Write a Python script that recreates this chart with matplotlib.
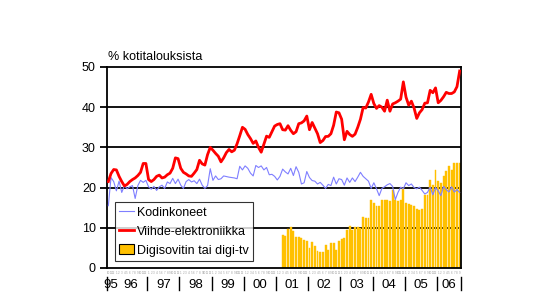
import matplotlib
matplotlib.use("Agg")
import matplotlib.pyplot as plt
from matplotlib.patches import Patch
from matplotlib.lines import Line2D

plt.rcParams['font.family'] = ['Liberation Sans', 'DejaVu Sans']

# Monthly data, Oct 1995 .. Sep 2006
year_labels = ["95", "96", "97", "98", "99", "00", "01", "02", "03", "04", "05", "06"]
months_in_year = [3, 12, 12, 12, 12, 12, 12, 12, 12, 12, 12, 9]

kodinkoneet = [
    15.5, 22.5, 21.5,
    19.2, 21.6, 18.8, 20.5, 19.7, 20.2, 20.5, 17.3, 20.5, 21.8, 21.3, 21.8,
    20.2, 19.6, 20.3, 19.3, 20.2, 20.6, 19.8, 21.4, 21.0, 22.3, 21.0, 22.1,
    20.6, 19.8, 21.5, 22.0, 21.4, 21.7, 21.0, 22.1, 20.6, 19.8, 20.5, 24.7,
    21.8, 22.9, 22.0, 22.2, 22.9, 22.75, 22.6, 22.5, 22.4, 22.2, 25.3, 24.4,
    25.4, 24.8, 23.6, 22.9, 25.5, 25.0, 25.4, 24.4, 25.0, 23.2, 23.3, 22.8,
    21.9, 22.8, 24.6, 23.9, 23.4, 24.8, 23.0, 25.2, 23.8, 20.9, 21.2, 24.0,
    22.5, 21.75, 21.6, 20.9, 21.3, 20.6, 19.8, 20.8, 20.5, 22.6, 20.9, 22.2,
    22.0, 20.6, 22.4, 21.3, 22.4, 21.5, 22.6, 23.8, 22.8, 22.2, 21.6, 19.8,
    21.2, 19.7, 18.0, 19.8, 20.2, 20.7, 21.0, 20.3, 17.0, 18.8, 20.1, 19.7,
    21.2, 20.5, 20.9, 20.0, 19.7, 20.1, 19.3, 18.4, 18.8, 20.1, 18.2, 20.0,
    19.2, 18.0, 20.3, 19.5, 18.9, 20.2, 18.9, 19.5, 18.8,
]

viihde = [
    21.5, 23.5, 24.5,
    24.4, 22.8, 21.5, 20.4, 20.8, 21.5, 22.0, 22.4, 23.0, 23.8, 26.0, 26.0,
    22.0, 21.5, 22.0, 22.8, 23.1, 22.4, 22.6, 23.2, 23.6, 24.8, 27.4, 27.2,
    24.8, 23.8, 23.4, 22.9, 22.8, 23.6, 24.5, 26.8, 25.9, 25.6, 28.2, 30.0,
    29.3, 28.5, 27.8, 26.4, 27.4, 28.7, 29.5, 28.9, 29.3, 30.9, 32.9, 35.0,
    34.5, 33.2, 32.2, 31.0, 31.6, 30.0, 28.8, 30.8, 32.8, 32.5, 33.9, 35.3,
    35.7, 35.9, 34.4, 34.3, 35.4, 34.25, 33.4, 33.9, 35.9, 36.1, 36.6, 37.8,
    34.4, 36.2, 34.8, 33.4, 31.2, 31.7, 32.7, 32.75, 33.4, 35.5, 38.8, 38.6,
    37.0, 31.9, 34.0, 33.2, 32.75, 33.3, 35.0, 37.0, 39.9, 39.8, 41.3, 43.2,
    40.9, 39.7, 40.4, 40.0, 39.0, 41.75, 39.0, 40.8, 41.1, 41.5, 42.0, 46.3,
    42.5, 40.5, 41.5, 39.8, 37.2, 38.6, 39.4, 41.0, 41.1, 44.2, 43.6, 44.8,
    41.1, 41.7, 42.6, 43.7, 43.4, 43.4, 43.8, 45.1, 49.0,
]

# Digisovitin tai digi-tv, from Mar 2001 (month index 65)
digi_start = 65
digi = [
    8.3, 8.0, 9.6, 10.2, 9.2, 7.8, 7.6, 7.4, 7.0, 6.6,
    5.0, 6.4, 5.4, 4.2, 4.1, 3.9, 5.6, 4.5, 6.2, 6.2, 4.4, 6.8,
    7.2, 7.4, 9.5, 10.5, 9.4, 10.2, 10.3, 10.0, 12.8, 12.5, 12.4, 17.0,
    16.2, 15.4, 15.4, 17.0, 16.8, 17.0, 16.6, 19.5, 17.0, 16.6, 17.0, 19.9,
    16.2, 16.0, 15.75, 15.5, 14.8, 14.5, 14.6, 18.25, 18.25, 22.0, 20.75, 24.5,
    21.6, 21.2, 22.8, 24.1, 25.3, 24.5, 26.2, 26.2, 26.0,
]

month_names = ["1", "2", "3", "4", "5", "6", "7", "8", "9", "10", "11", "12"]

n = len(viihde)
x = list(range(n))
xd = list(range(digi_start, digi_start + len(digi)))

W, H = 553, 294
fig = plt.figure(figsize=(W / 100, H / 100), dpi=100)
L, R, T, B = 107, 461, 67, 268
ax = fig.add_axes([L / W, (H - B) / H, (R - L) / W, (B - T) / H])

ax.set_xlim(-0.5, n - 0.5)
ax.set_ylim(0, 50)

for v in [10, 20, 30, 40]:
    ax.axhline(v, color='black', lw=1.3, zorder=1)

ax.bar(xd, digi, width=0.72, color='#FFC000', edgecolor='#FFC000', lw=0.3, zorder=2)
ax.plot(x, kodinkoneet, color='#7F7FFF', lw=0.8, zorder=3)
ax.plot(x, viihde, color='#FF0000', lw=2.0, zorder=4)

for s in ax.spines.values():
    s.set_color('black')
    s.set_linewidth(1.3)

ax.set_yticks([0, 10, 20, 30, 40, 50])
ax.tick_params(axis='y', direction='out', length=5, width=1.3, pad=3, labelsize=9)
ax.set_xticks([])

# year separators and labels
starts = [-0.5]
for m in months_in_year:
    starts.append(starts[-1] + m)
tick_pos = [starts[0]] + starts[2:]
for p in tick_pos:
    ax.add_line(Line2D([p, p], [-0.045, -0.11], transform=ax.get_xaxis_transform(),
                       color='black', lw=1.0, clip_on=False))
for lab, a, b in zip(year_labels, starts[:-1], starts[1:]):
    ax.text((a + b) / 2, -0.085, lab, transform=ax.get_xaxis_transform(),
            ha='center', va='center', fontsize=9.5)

# tiny month labels
mi = 9
for i in range(n):
    ax.text(i, -0.025, month_names[mi], transform=ax.get_xaxis_transform(),
            ha='center', va='center', fontsize=2.2, color='#A0A0A0')
    mi = (mi + 1) % 12

fig.text(108 / W, 1 - 57 / H, "% kotitalouksista", fontsize=9, ha='left', va='center')

handles = [
    Line2D([], [], color='#7F7FFF', lw=0.8),
    Line2D([], [], color='#FF0000', lw=2.0),
    Patch(facecolor='#FFC000', edgecolor='black', lw=0.8),
]
labels = ["Kodinkoneet", "Viihde-elektroniikka", "Digisovitin tai digi-tv"]
leg = ax.legend(handles, labels, loc='lower left', bbox_to_anchor=(0.0226, 0.035),
                borderaxespad=0, fontsize=9, frameon=True, fancybox=False,
                handlelength=1.2, handletextpad=0.2, labelspacing=0.55,
                borderpad=0.35, handleheight=0.8)
leg.get_frame().set_edgecolor('black')
leg.get_frame().set_linewidth(0.8)
leg.set_zorder(5)

fig.savefig("out.png", dpi=100)
